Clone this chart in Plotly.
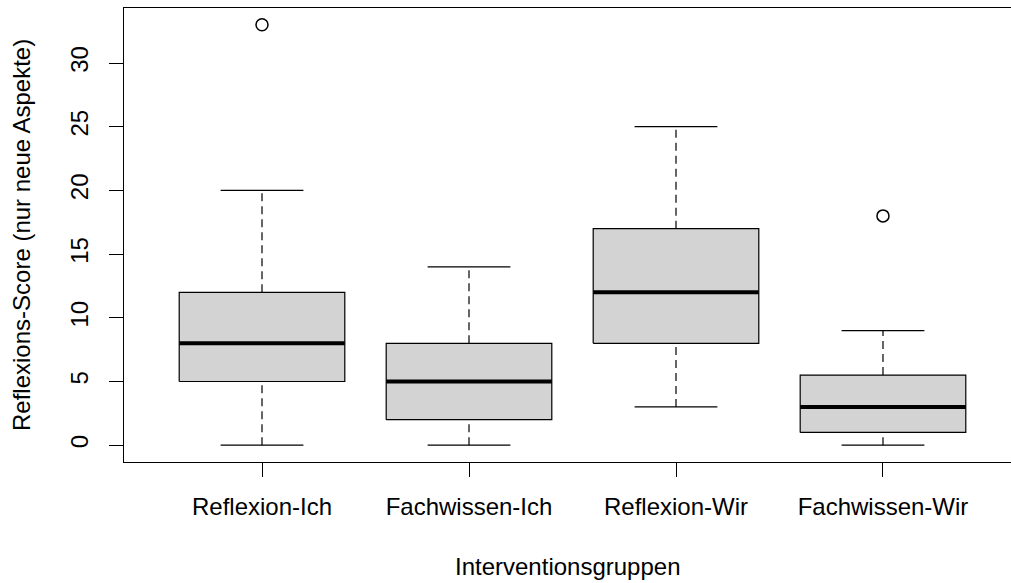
import plotly.graph_objects as go

categories = ["Reflexion-Ich", "Fachwissen-Ich", "Reflexion-Wir", "Fachwissen-Wir"]
lower_whisker = [0, 0, 3, 0]
q1 = [5, 2, 8, 1]
median = [8, 5, 12, 3]
q3 = [12, 8, 17, 5.5]
upper_whisker = [20, 14, 25, 9]
outlier_group = [1, 4]
outlier_value = [33, 18]
y_ticks = [0, 5, 10, 15, 20, 25, 30]

BW = 0.4   # half box width
SW = 0.2   # half staple width

fig = go.Figure()

positions = list(range(1, len(categories) + 1))

for p, lo, a, m, b, hi in zip(positions, lower_whisker, q1, median, q3, upper_whisker):
    # dashed whiskers
    fig.add_trace(go.Scatter(
        x=[p, p, None, p, p], y=[b, hi, None, lo, a], mode="lines",
        line=dict(color="black", width=1.2, dash="8px,5px"), hoverinfo="skip", showlegend=False))
    # staples
    fig.add_trace(go.Scatter(
        x=[p - SW, p + SW, None, p - SW, p + SW], y=[hi, hi, None, lo, lo], mode="lines",
        line=dict(color="black", width=1.2), hoverinfo="skip", showlegend=False))
    # box
    fig.add_trace(go.Scatter(
        x=[p - BW, p + BW, p + BW, p - BW, p - BW], y=[a, a, b, b, a], mode="lines",
        fill="toself", fillcolor="#d3d3d3",
        line=dict(color="black", width=1.2), hoverinfo="skip", showlegend=False))
    # median
    fig.add_trace(go.Scatter(
        x=[p - BW, p + BW], y=[m, m], mode="lines",
        line=dict(color="black", width=4), hoverinfo="skip", showlegend=False))

fig.add_trace(go.Scatter(
    x=outlier_group, y=outlier_value, mode="markers",
    marker=dict(symbol="circle-open", size=12, color="black", line=dict(width=1.5)),
    hoverinfo="skip", showlegend=False))

font = dict(family="Liberation Sans, Arial, sans-serif", size=24, color="black")

fig.update_layout(
    width=1011, height=583,
    margin=dict(l=124, r=0, t=8, b=121),
    paper_bgcolor="white", plot_bgcolor="white",
    font=font,
    xaxis=dict(
        range=[0.3333, 4.6184], tickmode="array", tickvals=positions, ticktext=categories,
        showgrid=False, zeroline=False, showline=True, mirror=True,
        linecolor="black", linewidth=1.2, ticks="outside", ticklen=14, tickwidth=1.2,
        tickcolor="black", ticklabelstandoff=9, tickfont=font),
    yaxis=dict(
        range=[-1.32, 34.32], tickmode="array", tickvals=y_ticks,
        ticktext=[str(t) for t in y_ticks], tickangle=-90,
        showgrid=False, zeroline=False, showline=True, mirror=False,
        linecolor="black", linewidth=1.2, ticks="outside", ticklen=14, tickwidth=1.2,
        tickcolor="black", ticklabelstandoff=11, tickfont=font),
    annotations=[
        dict(text="Interventionsgruppen", xref="paper", yref="paper", x=0.5, y=0,
             xanchor="center", yanchor="middle", yshift=-104, showarrow=False, font=font),
        dict(text="Reflexions-Score (nur neue Aspekte)", xref="paper", yref="paper", x=0, y=0.5,
             xanchor="center", yanchor="middle", xshift=-103, textangle=-90,
             showarrow=False, font=font),
    ],
)

fig.write_html("out.html")
